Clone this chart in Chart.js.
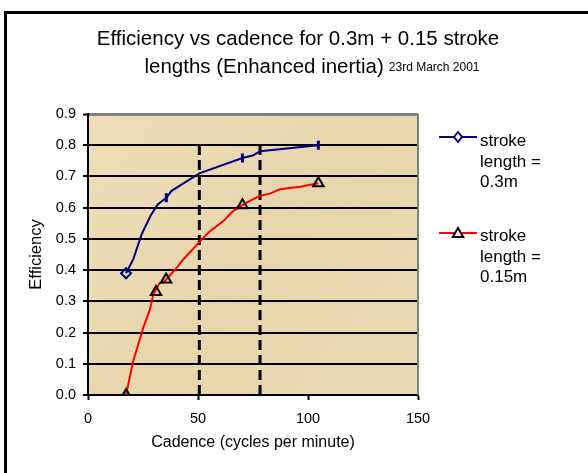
<!DOCTYPE html>
<html><head><meta charset="utf-8">
<script src="https://cdn.jsdelivr.net/npm/chart.js@4/dist/chart.umd.min.js"></script>
<style>html,body{margin:0;padding:0;background:#fff;overflow:hidden}canvas{display:block}</style>
</head><body>
<canvas id="c" width="588" height="473"></canvas>
<script>
// ---- text ----
const titleLine1 = "Efficiency vs cadence for 0.3m + 0.15 stroke";
const titleLine2 = "lengths (Enhanced inertia)";
const titleDate = "23rd March 2001";
const xAxisTitle = "Cadence (cycles per minute)";
const yAxisTitle = "Efficiency";
const seriesLabels = [["stroke", "length =", "0.3m"], ["stroke", "length =", "0.15m"]];

// ---- axes ----
const xMin = 0, xMax = 150, xStep = 50;
const yMin = 0, yMax = 0.9, yStep = 0.1;

// ---- series: stroke length 0.3m (blue) ----
const blueCurveX = [17.3, 20.6, 24.4, 28.5, 31.7, 35.6, 38.0, 50.6, 70.2, 75.2, 78.2, 104.7];
const blueCurveY = [0.39, 0.435, 0.515, 0.575, 0.61, 0.632, 0.654, 0.71, 0.759, 0.768, 0.781, 0.80];
const blueMarkX = [17.3, 35.6, 70.2, 104.7];
const blueMarkY = [0.39, 0.632, 0.759, 0.80];

// ---- series: stroke length 0.15m (red) ----
const redCurveX = [17.3, 20.6, 25.1, 28.2, 29.6, 31.5, 32.5, 34.3, 35.5, 40.3, 43.3, 50.4, 54.7, 61.5, 66.0, 70.2, 73.6, 78.2, 82.7, 87.3, 96.4, 104.7];
const redCurveY = [0.0, 0.11, 0.215, 0.275, 0.32, 0.345, 0.358, 0.361, 0.37, 0.407, 0.434, 0.488, 0.52, 0.557, 0.589, 0.608, 0.622, 0.638, 0.645, 0.659, 0.667, 0.678];
const redMarkX = [17.3, 30.9, 35.5, 70.2, 104.7];
const redMarkY = [0.0, 0.33, 0.37, 0.608, 0.678];

// ---- dashed reference lines ----
const refLineX = [50.6, 78.2];
const refLineY = [0.0, 0.8];

const FONT = "'Liberation Sans', Arial, sans-serif";
const zip = (xs, ys) => xs.map((x, i) => ({x: x, y: ys[i]}));

const datasets = [];
datasets.push({
  label: 'blueMarks', data: zip(blueMarkX, blueMarkY), showLine: false,
  borderColor: '#000080', backgroundColor: 'rgba(0,0,0,0)',
  pointStyle: c => c.dataIndex === 0 ? 'rectRot' : 'line',
  pointRotation: c => c.dataIndex === 0 ? 0 : 90,
  pointRadius: c => c.dataIndex === 0 ? 5 : 4.5,
  pointBorderWidth: c => c.dataIndex === 0 ? 2 : 3,
  pointBorderColor: '#000080'
});
datasets.push({
  label: 'redMarks', data: zip(redMarkX, redMarkY), showLine: false,
  pointStyle: 'triangle', pointRadius: 6, pointBorderWidth: 2,
  pointBorderColor: '#000', pointBackgroundColor: 'rgba(0,0,0,0)'
});
datasets.push({
  label: seriesLabels[0].join(' '), data: zip(blueCurveX, blueCurveY), showLine: true,
  borderColor: '#000080', borderWidth: 2, pointRadius: 0, tension: 0
});
datasets.push({
  label: seriesLabels[1].join(' '), data: zip(redCurveX, redCurveY), showLine: true,
  borderColor: '#ff0000', borderWidth: 2, pointRadius: 0, tension: 0
});
refLineX.forEach(x => datasets.push({
  label: 'ref', data: refLineY.map(y => ({x: x, y: y})), showLine: true,
  borderColor: '#000', borderWidth: 3, borderDash: [10, 5], pointRadius: 0
}));

function diamond(ctx, x, y, r) {
  ctx.beginPath(); ctx.moveTo(x, y - r); ctx.lineTo(x + r * 0.8, y); ctx.lineTo(x, y + r); ctx.lineTo(x - r * 0.8, y); ctx.closePath();
  ctx.fill(); ctx.stroke();
}
function triangle(ctx, x, y, r) {
  ctx.beginPath(); ctx.moveTo(x, y - r); ctx.lineTo(x + r * 0.866, y + r * 0.5); ctx.lineTo(x - r * 0.866, y + r * 0.5); ctx.closePath();
  ctx.fill(); ctx.stroke();
}

const decor = {
  id: 'decor',
  beforeDraw(chart) {
    const ctx = chart.ctx, a = chart.chartArea;
    ctx.save();
    ctx.fillStyle = '#fff'; ctx.fillRect(0, 0, chart.width, chart.height);
    // outer frame (continues beyond the canvas on right and bottom)
    ctx.strokeStyle = '#000'; ctx.lineWidth = 3;
    ctx.strokeRect(5.5, 12.5, 700, 600);
    // plot area parchment
    const g = ctx.createLinearGradient(a.left, a.top, a.right, a.bottom);
    g.addColorStop(0, '#eedeb9'); g.addColorStop(0.5, '#e8d5ac'); g.addColorStop(1, '#ebd9b1');
    ctx.fillStyle = g; ctx.fillRect(a.left, a.top, a.right - a.left, a.bottom - a.top);
    ctx.restore();
  },
  beforeDatasetsDraw(chart) {
    const ctx = chart.ctx, a = chart.chartArea;
    ctx.save();
    ctx.strokeStyle = '#808080'; ctx.lineWidth = 2;
    ctx.beginPath(); ctx.moveTo(a.right, a.top); ctx.lineTo(a.right, a.bottom); ctx.stroke();
    ctx.restore();
  },
  afterDraw(chart) {
    const ctx = chart.ctx;
    ctx.save();
    ctx.fillStyle = '#000'; ctx.textBaseline = 'alphabetic';
    // title
    ctx.font = '20.5px ' + FONT; ctx.textAlign = 'center';
    ctx.fillText(titleLine1, 298, 45);
    ctx.textAlign = 'left';
    ctx.font = '20.5px ' + FONT;
    const w1 = ctx.measureText(titleLine2).width;
    ctx.font = '12px ' + FONT;
    const w2 = ctx.measureText(titleDate).width;
    const gap = 5, total = w1 + gap + w2;
    const sx = 312 - total / 2;
    ctx.font = '20.5px ' + FONT;
    ctx.fillText(titleLine2, sx, 73);
    ctx.font = '12px ' + FONT;
    ctx.fillText(titleDate, sx + w1 + gap, 71);
    // legend
    const ds = chart.data.datasets;
    const rows = [
      {y: 137, color: ds[2].borderColor, lines: seriesLabels[0], base: 146, kind: 'd'},
      {y: 233, color: ds[3].borderColor, lines: seriesLabels[1], base: 241, kind: 't'}
    ];
    rows.forEach(r => {
      ctx.strokeStyle = r.color; ctx.lineWidth = 2;
      ctx.beginPath(); ctx.moveTo(439, r.y); ctx.lineTo(477, r.y); ctx.stroke();
      ctx.fillStyle = '#fff';
      if (r.kind === 'd') { ctx.strokeStyle = r.color; ctx.lineWidth = 2; diamond(ctx, 458, r.y, 5); }
      else { ctx.strokeStyle = '#000'; ctx.lineWidth = 2; triangle(ctx, 458, r.y + 1, 6); }
      ctx.fillStyle = '#000'; ctx.font = '17px ' + FONT; ctx.textAlign = 'left';
      r.lines.forEach((t, i) => ctx.fillText(t, 480, r.base + i * 20.7));
    });
    ctx.restore();
  }
};

new Chart(document.getElementById('c'), {
  type: 'scatter',
  data: {datasets: datasets},
  plugins: [decor],
  options: {
    responsive: false, animation: false, events: [],
    layout: {padding: {left: 0, top: 114, right: 170, bottom: 0}},
    plugins: {legend: {display: false}, tooltip: {enabled: false}, title: {display: false}},
    scales: {
      x: {
        type: 'linear', min: xMin, max: xMax,
        afterFit: s => { s.height = 78; },
        ticks: {stepSize: xStep, color: '#000', font: {size: 14.5, family: FONT}, padding: 10, maxRotation: 0},
        grid: {drawOnChartArea: false, drawTicks: true, tickLength: 5, tickColor: '#000', tickWidth: 2},
        border: {display: true, color: '#000', width: 2},
        title: {display: true, text: xAxisTitle, color: '#000', font: {size: 16, family: FONT}, padding: {top: 0, bottom: 21}}
      },
      y: {
        type: 'linear', min: yMin, max: yMax,
        afterFit: s => { s.width = 88; },
        ticks: {stepSize: yStep, color: '#000', font: {size: 14.5, family: FONT}, padding: 7,
          callback: v => Number(v).toFixed(1)},
        grid: {drawOnChartArea: true, drawTicks: true, tickLength: 5, tickColor: '#000', tickWidth: 2,
          color: c => (c.tick && c.tick.value > yMax - 1e-6) ? '#808080' : '#000',
          lineWidth: c => (c.tick && c.tick.value > yMax - 1e-6) ? 3 : 2},
        border: {display: true, color: '#000', width: 2},
        title: {display: true, text: yAxisTitle, color: '#000', font: {size: 16.5, family: FONT}, padding: {top: 27, bottom: 0}}
      }
    }
  }
});
</script>
</body></html>
